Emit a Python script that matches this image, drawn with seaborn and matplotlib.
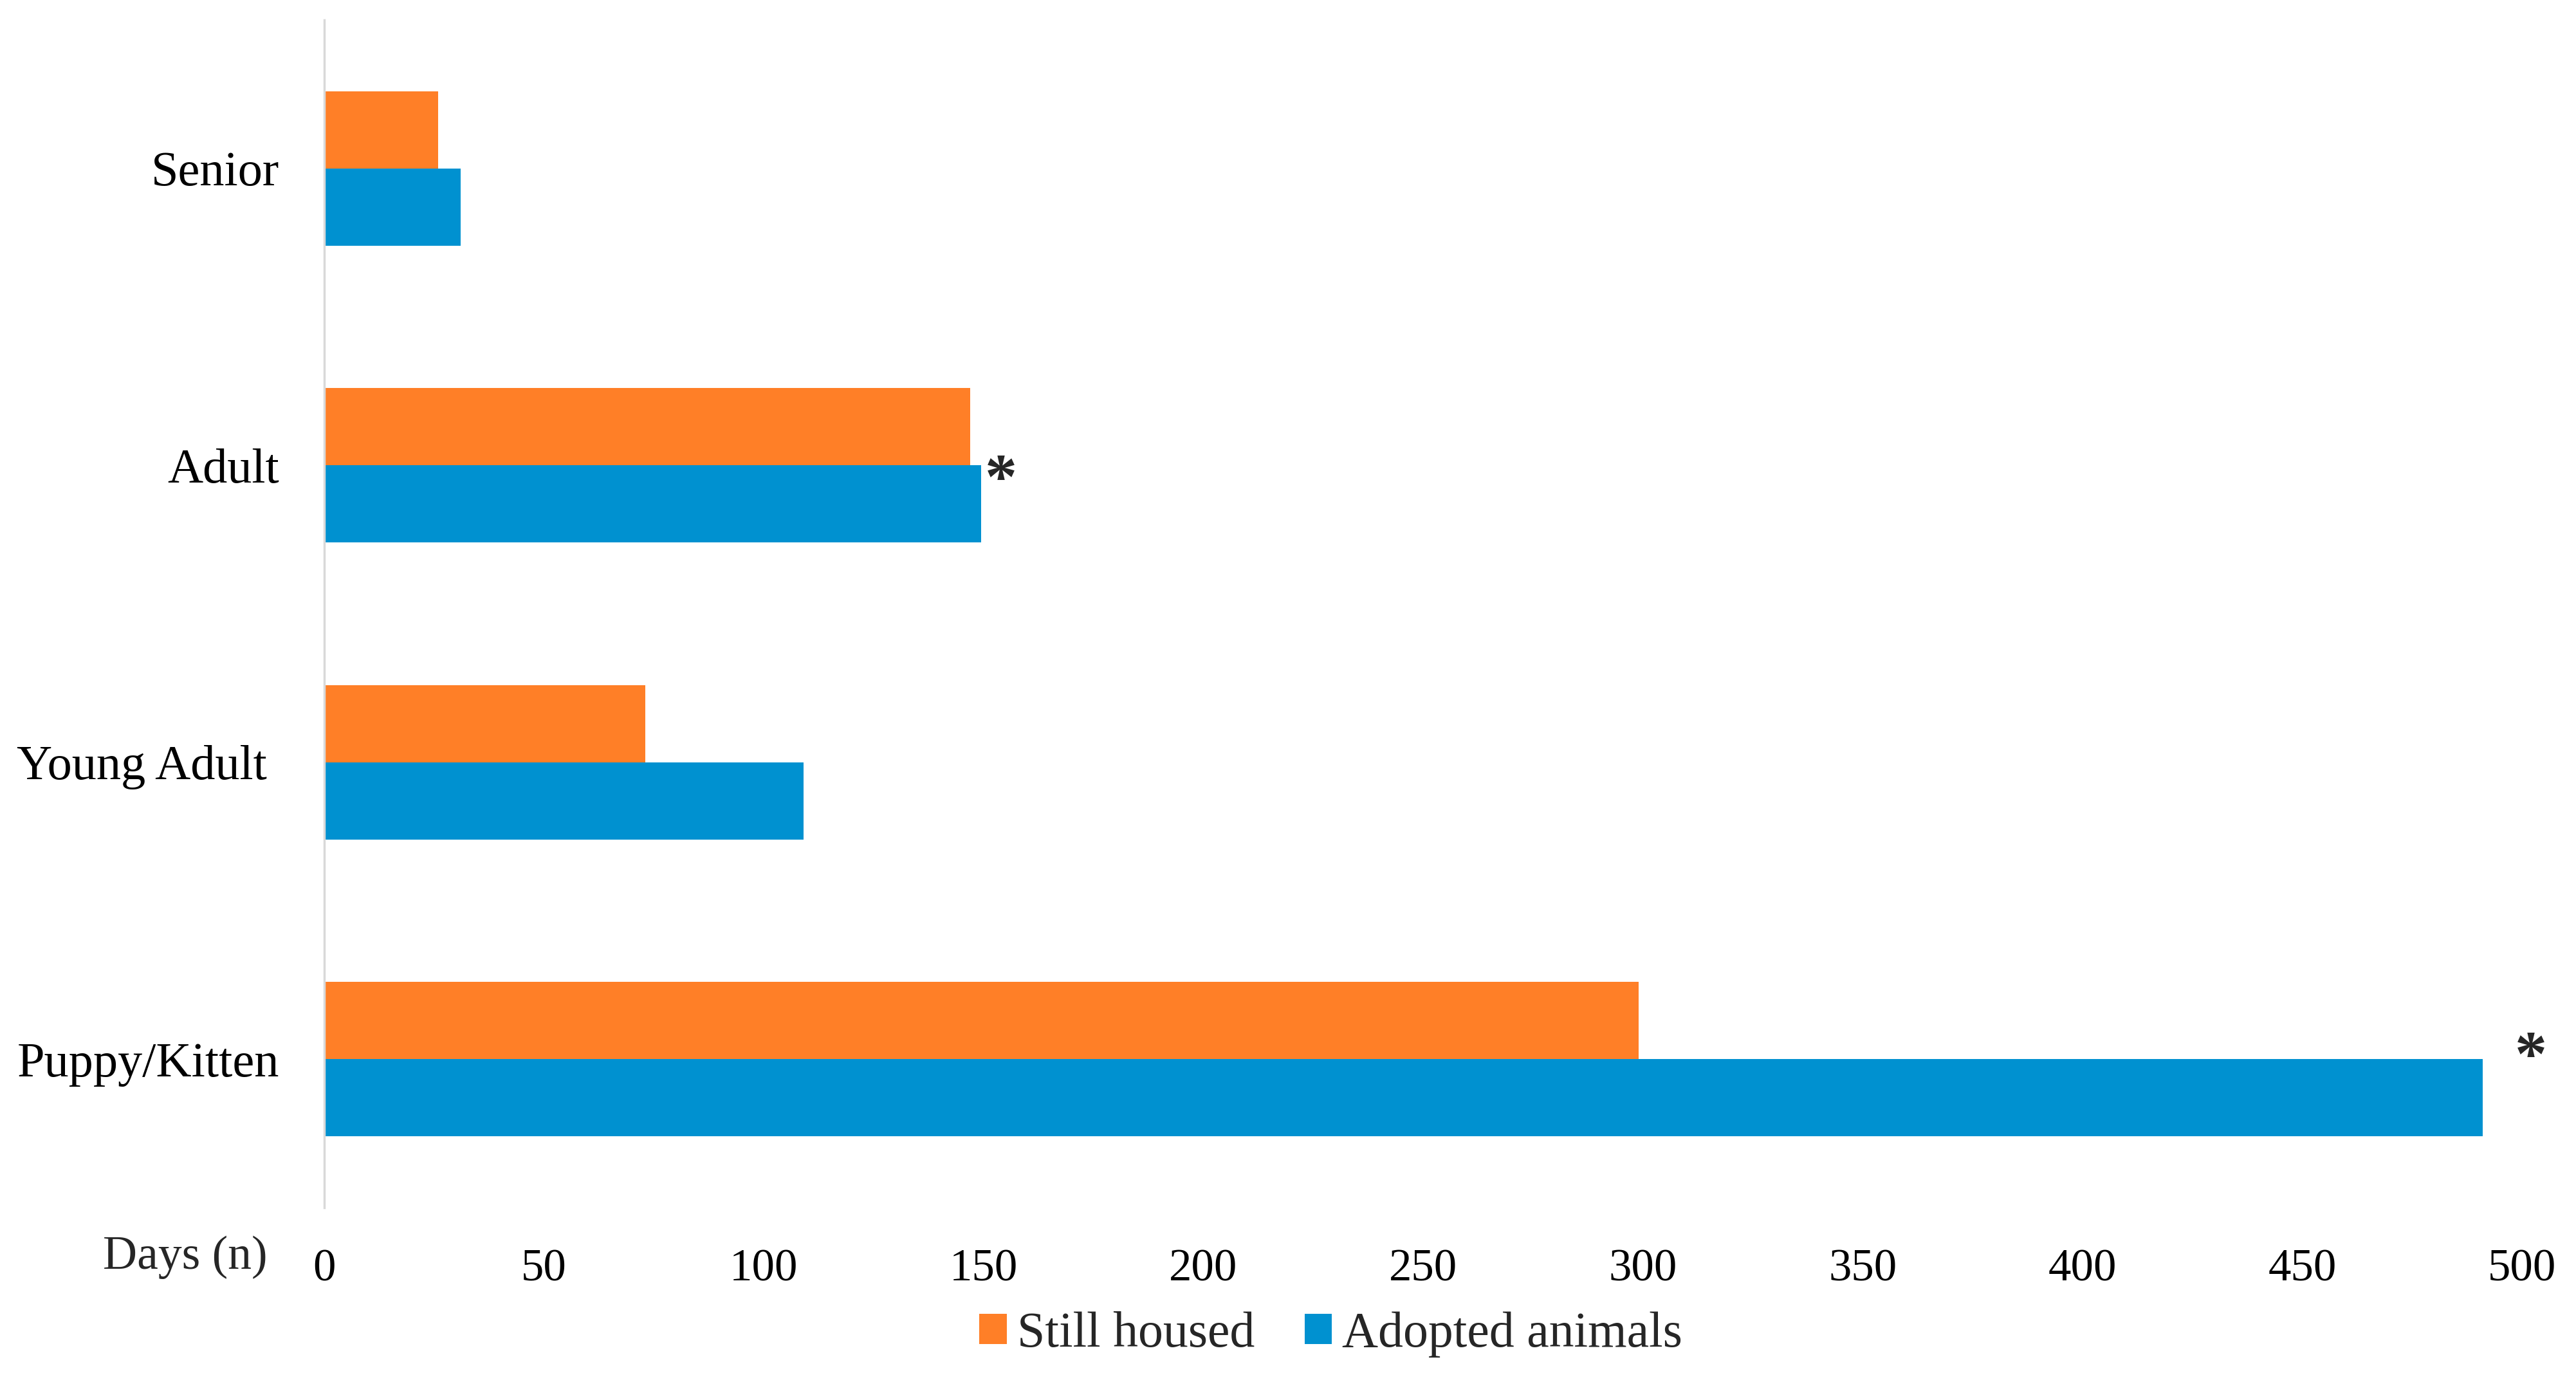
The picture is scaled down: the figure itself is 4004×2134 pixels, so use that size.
import pandas as pd
import matplotlib
matplotlib.use("Agg")
import matplotlib.pyplot as plt
import seaborn as sns
from matplotlib.patches import Patch

# -----------------------------
# Data
# -----------------------------
age_groups = ["Senior", "Adult", "Young Adult ", "Puppy/Kitten"]
still_housed = [26, 147, 73, 299]
adopted = [31, 149.5, 109, 491]
series_names = ["Still housed", "Adopted animals"]
colors = ["#FF7F27", "#0091D0"]
x_ticks = [0, 50, 100, 150, 200, 250, 300, 350, 400, 450, 500]

# significance markers: category, x position in days, small vertical nudge
sig_groups = ["Adult", "Puppy/Kitten"]
sig_x = [154, 502]
sig_dy = [0.055, 0.0]

df = pd.DataFrame({
    "group": age_groups * 2,
    "days": still_housed + adopted,
    "status": [series_names[0]] * 4 + [series_names[1]] * 4,
})

# -----------------------------
# Plot
# -----------------------------
sns.set_style("white")
plt.rcParams["font.family"] = ["Liberation Serif", "DejaVu Serif"]

fig = plt.figure(figsize=(40.05, 21.34), dpi=100)
ax = fig.add_axes([0.1258, 0.1204, 0.8530, 0.8651])

sns.barplot(data=df, x="days", y="group", hue="status", order=age_groups,
            hue_order=series_names, palette=colors, orient="h",
            width=0.52, gap=0, saturation=1, edgecolor="none",
            legend=False, ax=ax)

ax.set_xlim(0, 500)
ax.set_ylim(3.5, -0.5)
ax.set_xticks(x_ticks)
ax.set_xlabel("")
ax.set_ylabel("")

for side in ["top", "right", "bottom"]:
    ax.spines[side].set_visible(False)
ax.spines["left"].set_color("#D9D9D9")
ax.spines["left"].set_linewidth(2.5)

ax.tick_params(axis="x", length=0, pad=46, labelsize=51, colors="black")
ax.tick_params(axis="y", length=0, pad=50, labelsize=55, colors="black")

for g, xv, dy in zip(sig_groups, sig_x, sig_dy):
    ax.text(xv, age_groups.index(g) + dy, "*", ha="center", va="center",
            fontsize=72, fontweight="bold", clip_on=False)

fig.text(0.1039, 0.0844, "Days (n)", ha="right", va="center", fontsize=53)

handles = [Patch(facecolor=c, edgecolor="none") for c in colors]
fig.legend(handles, series_names, loc="center", bbox_to_anchor=(0.5165, 0.0281),
           ncol=2, frameon=False, fontsize=56, handlelength=0.55, handleheight=0.55,
           handletextpad=0.2, columnspacing=1.0)

fig.savefig("out.png", dpi=100)
